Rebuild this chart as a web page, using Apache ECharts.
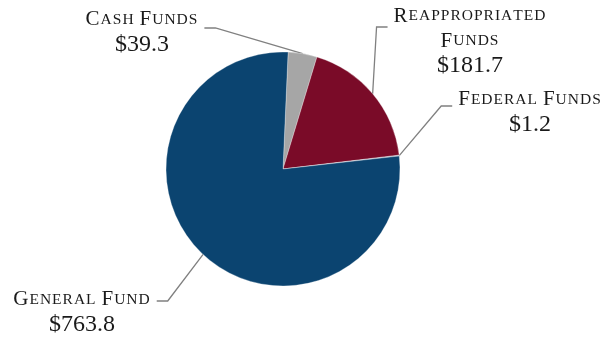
<!DOCTYPE html>
<html>
<head>
<meta charset="utf-8">
<script src="https://cdn.jsdelivr.net/npm/echarts@6/dist/echarts.min.js"></script>
<style>
  html, body { margin: 0; padding: 0; background: #ffffff; }
  #chart { width: 604px; height: 337px; }
</style>
</head>
<body>
<div id="chart"></div>
<script>
// Fund sources (millions of dollars), drawn clockwise from the top of the pie
const fundNames = ['Cash Funds', 'Reappropriated\nFunds', 'Federal Funds', 'General Fund'];
const fundAmounts = [39.3, 181.7, 1.2, 763.8];
const fundColors = ['#a6a6a6', '#7a0b28', '#8d9cae', '#0b4470'];

const pieCenter = [283, 169];

// Label placement: centre of the text block, and the height of the leader's tail
const labelSpots = [
  { x: 142, y: 32, tailY: 28 },
  { x: 470, y: 41, tailY: 27 },
  { x: 530, y: 112, tailY: 106 },
  { x: 82, y: 312, tailY: 301 }
];

// Emulate letter-spaced small caps: first letter of each word full size,
// the rest smaller capitals, one rich token per character
function smallCaps(text) {
  return text.split('\n').map(function (line) {
    return line.split(' ').map(function (word) {
      let out = '{cap|' + word.charAt(0).toUpperCase() + '}';
      word.slice(1).toUpperCase().split('').forEach(function (ch) {
        out += '{sc|' + ch + '}';
      });
      return out;
    }).join('{gap| }');
  }).join('\n');
}

const chart = echarts.init(document.getElementById('chart'), null, { renderer: 'canvas' });

const serif = '"Liberation Serif", "DejaVu Serif", serif';
const ink = '#1a1a1a';

chart.setOption({
  animation: false,
  backgroundColor: '#ffffff',
  series: [{
    type: 'pie',
    center: pieCenter,
    radius: 117,
    startAngle: 87.5,
    clockwise: true,
    avoidLabelOverlap: false,
    itemStyle: { borderColor: '#ffffff', borderWidth: 0.3 },
    data: fundNames.map(function (name, i) {
      return { name: name, value: fundAmounts[i], itemStyle: { color: fundColors[i] } };
    }),
    label: {
      show: true,
      position: 'outside',
      color: ink,
      align: 'center',
      formatter: function (p) {
        return smallCaps(p.name) + '\n{val|$' + p.value.toFixed(1) + '}';
      },
      rich: {
        cap: { fontFamily: serif, fontSize: 21, color: ink, lineHeight: 25, padding: [0, 1, 0, 0] },
        sc: { fontFamily: serif, fontSize: 15.5, color: ink, lineHeight: 25, padding: [0, 1, 0, 0] },
        gap: { fontFamily: serif, fontSize: 15.5, color: ink, lineHeight: 25, padding: [0, 1, 0, 0] },
        val: { fontFamily: serif, fontSize: 24, color: ink, lineHeight: 25, align: 'center' }
      }
    },
    labelLine: {
      show: true,
      length: 10,
      length2: 10,
      lineStyle: { color: '#808080', width: 1.3 }
    },
    // Move each label to its spot; the leader runs from the slice edge to
    // a short horizontal tail beside the first text line
    labelLayout: function (p) {
      const spot = labelSpots[p.dataIndex];
      const out = { x: spot.x, y: spot.y, align: 'center', verticalAlign: 'middle', moveOverlap: false };
      if (p.labelLinePoints && p.labelRect) {
        const w = p.labelRect.width;
        const onLeft = spot.x < pieCenter[0];
        const textEdge = onLeft ? spot.x + w / 2 + 6 : spot.x - w / 2 - 6;
        const elbow = onLeft ? textEdge + 11 : textEdge - 11;
        out.labelLinePoints = [p.labelLinePoints[0], [elbow, spot.tailY], [textEdge, spot.tailY]];
      }
      return out;
    }
  }]
});
</script>
</body>
</html>
